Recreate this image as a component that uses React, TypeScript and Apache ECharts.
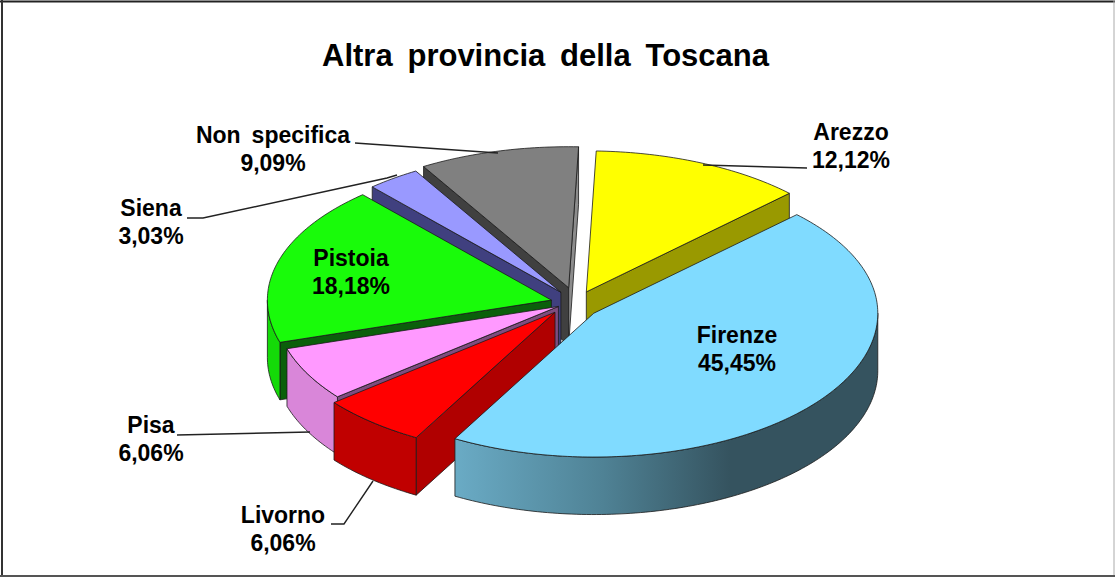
import React, { useEffect, useRef } from "react";
import * as echarts from "echarts";

const chartTitle = "Altra provincia della Toscana";
const categories = ["Arezzo", "Firenze", "Livorno", "Pisa", "Pistoia", "Siena", "Non specifica"];
const shares = [12.12, 45.45, 6.06, 6.06, 18.18, 3.03, 9.09];

// Back-to-front painting order of the slices (indexes in categories)
const paintOrder = [6, 0, 5, 4, 3, 2, 1];

const topColors = ["#ffff00", "#80dbff", "#ff0000", "#ff99ff", "#19fb0a", "#9999ff", "#808080"];
const startWallColors = ["#999900", "#4a7b8f", "#b00000", "#7f4c7f", "#0b5f0b", "#40407f", "#404040"];
const endWallColors = ["#999900", "#4a7b8f", "#b00000", "#7f4c7f", "#0b5f0b", "#40407f", "#8c8c8c"];
const rimColors: any[] = [
  "#999900",
  {
    type: "linear", x: 0, y: 0, x2: 1, y2: 0,
    colorStops: [
      { offset: 0, color: "#6aabc5" },
      { offset: 0.35, color: "#4f8295" },
      { offset: 0.65, color: "#35535f" },
      { offset: 1, color: "#35535f" },
    ],
  },
  "#c00000", "#d986d9", "#14da08", "#7a7acc", "#666666",
];

// Pie geometry
const PIE = { cx: 575, cy: 303.5, rx: 284, ry: 141, frontStretch: 1.02, depth: 57.5, explode: 0.09, startDeg: 2 };
// Small per-slice placement corrections on top of the uniform explosion
const sliceNudge = [
  [1, 0], [-1.5, 2], [-3.5, -1], [6, -3], [1, 0], [1, -1], [0, -3.5],
];

// Label layout: centre x, centre y of the two-line block
const labelCentres = [
  [851, 146], [737, 349], [283, 529], [151, 439], [351, 272], [151, 222], [273, 149],
];
const leaderLines: number[][][] = [
  [[807, 168], [703, 165]],
  [],
  [[331, 524], [344, 524], [373, 481]],
  [[177, 435], [310, 432]],
  [],
  [[187, 218], [203, 218], [387, 178], [397, 175]],
  [[355, 143], [498, 153]],
];

const total = shares.reduce((a, b) => a + b, 0);
const rad = (d: number) => (d * Math.PI) / 180;

function sliceAngles(i: number) {
  let a = PIE.startDeg;
  for (let k = 0; k < i; k++) a += (shares[k] / total) * 360;
  return [a, a + (shares[i] / total) * 360];
}

function ellipsePoint(cx: number, cy: number, deg: number, dy = 0) {
  const c = Math.cos(rad(deg));
  const ry = c < 0 ? PIE.ry * PIE.frontStretch : PIE.ry;
  return [cx + PIE.rx * Math.sin(rad(deg)), cy - ry * c + dy];
}

function arcPoints(cx: number, cy: number, a0: number, a1: number, dy = 0) {
  const pts: number[][] = [];
  const n = Math.max(2, Math.ceil(a1 - a0));
  for (let j = 0; j <= n; j++) pts.push(ellipsePoint(cx, cy, a0 + ((a1 - a0) * j) / n, dy));
  return pts;
}

const outline = { stroke: "#1a1a1a", lineWidth: 0.8, lineJoin: "round" };

function renderSlice(_: any, api: any) {
  const i = api.value(1) as number;
  const [a0, a1] = sliceAngles(i);
  const mid = (a0 + a1) / 2;
  const cx = PIE.cx + PIE.rx * PIE.explode * Math.sin(rad(mid)) + sliceNudge[i][0];
  const cy = PIE.cy - PIE.ry * PIE.explode * Math.cos(rad(mid)) + sliceNudge[i][1];
  const d = PIE.depth;
  const children: any[] = [];

  const wall = (deg: number, fill: any) => {
    const p = ellipsePoint(cx, cy, deg);
    children.push({
      type: "polygon",
      shape: { points: [[cx, cy], p, [p[0], p[1] + d], [cx, cy + d]] },
      style: { fill, ...outline },
    });
  };
  // Only the cut faces turned towards the viewer are drawn
  if (Math.sin(rad(a0)) < 0) wall(a0, startWallColors[i]);
  if (Math.sin(rad(a1)) > 0) wall(a1, endWallColors[i]);

  const f0 = Math.max(a0, 90);
  const f1 = Math.min(a1, 270);
  if (f1 > f0) {
    const up = arcPoints(cx, cy, f0, f1);
    const down = arcPoints(cx, cy, f0, f1, d).reverse();
    children.push({
      type: "polygon",
      shape: { points: [...up, ...down] },
      style: { fill: rimColors[i], ...outline },
    });
  }

  children.push({
    type: "polygon",
    shape: { points: [[cx, cy], ...arcPoints(cx, cy, a0, a1)] },
    style: { fill: topColors[i], ...outline },
  });
  return { type: "group", children };
}

const labelFont = 'bold 23px "Liberation Sans", Arial, sans-serif';

export default function App() {
  const ref = useRef<HTMLDivElement>(null);
  useEffect(() => {
    const chart = echarts.init(ref.current!, null, { renderer: "svg" });
    const labels = categories.map((name, i) => ({
      type: "text",
      x: labelCentres[i][0],
      y: labelCentres[i][1],
      z: 10,
      silent: true,
      style: {
        text: `${name}\n${shares[i].toFixed(2).replace(".", ",")}%`,
        font: labelFont,
        lineHeight: 28,
        fill: "#000",
        align: "center",
        verticalAlign: "middle",
      },
    }));
    const leaders = leaderLines
      .filter((pts) => pts.length > 0)
      .map((pts) => ({
        type: "polyline",
        z: 9,
        silent: true,
        shape: { points: pts },
        style: { stroke: "#222", lineWidth: 1.4, fill: "none" },
      }));
    const frame = [
      { x1: 0, y1: 1.5, x2: 1115, y2: 1.5, stroke: "#222", lineWidth: 2 },
      { x1: 2, y1: 0, x2: 2, y2: 577, stroke: "#333", lineWidth: 2 },
      { x1: 1114, y1: 0, x2: 1114, y2: 577, stroke: "#aaa", lineWidth: 1 },
      { x1: 0, y1: 576, x2: 1115, y2: 576, stroke: "#555", lineWidth: 2 },
    ].map((l) => ({
      type: "line",
      z: 11,
      silent: true,
      shape: { x1: l.x1, y1: l.y1, x2: l.x2, y2: l.y2 },
      style: { stroke: l.stroke, lineWidth: l.lineWidth },
    }));
    chart.setOption({
      animation: false,
      backgroundColor: "#fff",
      title: {
        text: chartTitle,
        left: 540.5,
        top: 50,
        textAlign: "center",
        textVerticalAlign: "middle",
        textStyle: {
          fontFamily: '"Liberation Sans", Arial, sans-serif',
          fontWeight: "bold",
          fontSize: 31,
          color: "#000",
        },
      },
      graphic: { elements: [...leaders, ...labels, ...frame] },
      series: [
        {
          type: "custom",
          coordinateSystem: "none",
          silent: true,
          renderItem: renderSlice,
          data: paintOrder.map((i) => ({ name: categories[i], value: [shares[i], i] })),
        },
      ],
    });
    return () => chart.dispose();
  }, []);
  return (
    <>
      <style>{"svg text { word-spacing: 0.2em; }"}</style>
      <div ref={ref} style={{ position: "fixed", left: 0, top: 0, width: 1115, height: 577 }} />
    </>
  );
}
